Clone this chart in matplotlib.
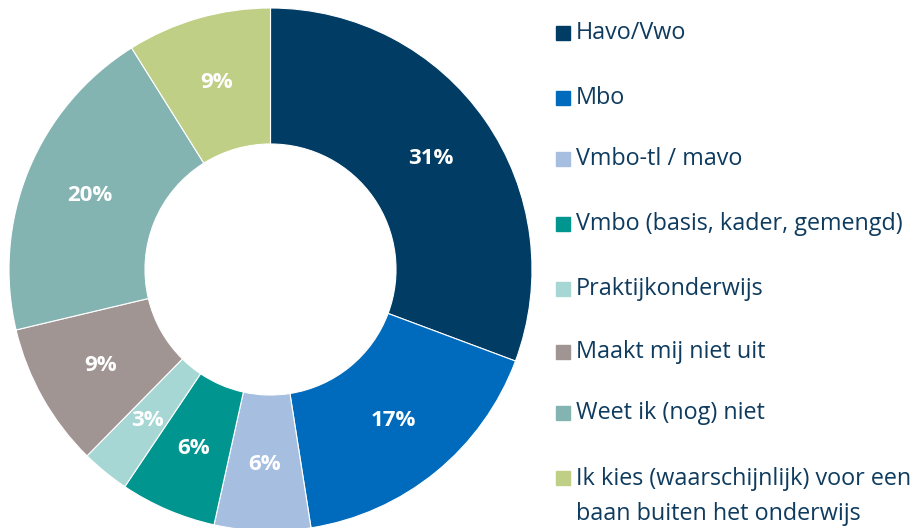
import matplotlib
matplotlib.use("Agg")
import matplotlib.pyplot as plt
from matplotlib.patches import Rectangle

categories = [
    "Havo/Vwo",
    "Mbo",
    "Vmbo-tl / mavo",
    "Vmbo (basis, kader, gemengd)",
    "Praktijkonderwijs",
    "Maakt mij niet uit",
    "Weet ik (nog) niet",
    "Ik kies (waarschijnlijk) voor een\nbaan buiten het onderwijs",
]
shares = [31, 17, 6, 6, 3, 9, 20, 9]
colors = ["#003C64", "#006BBC", "#A6BFE1", "#00958F", "#A6D7D4",
          "#A09593", "#84B4B2", "#C0CF86"]
text_color = "#0E3B5E"

plt.rcParams["font.family"] = ["Open Sans", "DejaVu Sans"]

fig = plt.figure(figsize=(9.16, 5.28), dpi=100)
ax = fig.add_axes([9 / 916, -3 / 528, 523 / 916, 523 / 528])

wedges, _, pct = ax.pie(
    shares, colors=colors, startangle=90, counterclock=False, radius=1,
    autopct=lambda p: "", pctdistance=0.745,
    wedgeprops=dict(width=0.52, edgecolor="white", linewidth=0.8),
)
for t, v in zip(pct, shares):
    t.set_text(f"{v}%")
    t.set_color("white")
    t.set_fontsize(16)
    t.set_fontweight("bold")
ax.set_xlim(-1, 1)
ax.set_ylim(-1, 1)
ax.set_aspect("equal")

# legend drawn by hand, one row per category (y in pixels from the top)
rows_y = [33, 98, 159, 224, 289, 352, 413, 478]
for label, color, y in zip(categories, colors, rows_y):
    fig.patches.append(Rectangle((556 / 916, 1 - (y + 7) / 528), 14 / 916, 14 / 528,
                                 transform=fig.transFigure, color=color))
    if "\n" in label:
        fig.text(576 / 916, 1 - (y - 11) / 528, label, color=text_color,
                 fontsize=16.8, va="top", ha="left", linespacing=1.6)
    else:
        fig.text(576 / 916, 1 - y / 528, label, color=text_color,
                 fontsize=16.8, va="center", ha="left")

fig.savefig("out.png", dpi=100)
